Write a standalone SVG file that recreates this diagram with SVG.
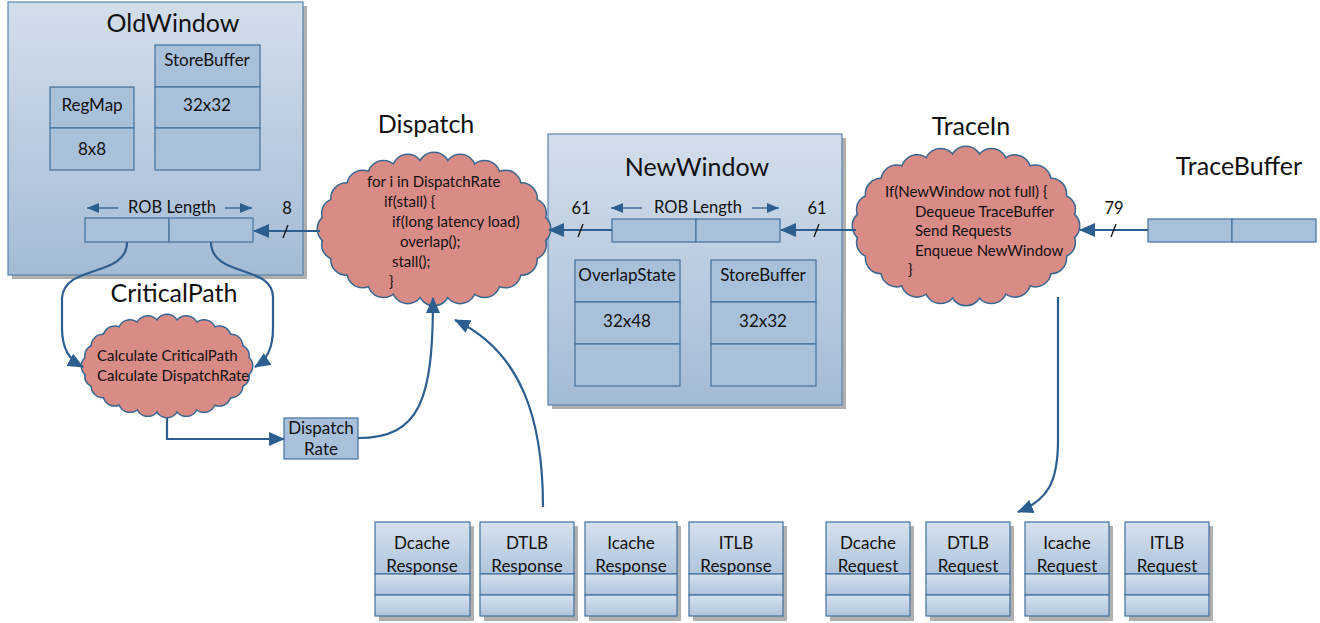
<svg xmlns="http://www.w3.org/2000/svg" xmlns:xlink="http://www.w3.org/1999/xlink" width="1320" height="623" viewBox="0 0 1320 623">
<style>
text{font-family:Lato,"Liberation Sans",sans-serif;fill:#111}
.title{font-size:25px;text-anchor:middle}
.lbl{font-size:17px;text-anchor:middle}
.rob{font-size:16.5px;text-anchor:middle}
.num{font-size:16.5px;text-anchor:middle}
.blbl{font-size:17px;text-anchor:middle}
.code{font-size:15px}
.win{fill:url(#gWin);stroke:#5a82ad;stroke-width:1.2}
.shadow{fill:#8f8f8f;opacity:0.7}
.cell{fill:#a9c0da;stroke:#41709f;stroke-width:1.2}
.bcell{fill:url(#gBox);stroke:#41709f;stroke-width:1.2}
.cs{fill:#d98b86;stroke:#3a6792;stroke-width:3}
.cf{fill:#d98b86;stroke:none}
.conn{fill:none;stroke:#2d5e90;stroke-width:2.2}
.slash{stroke:#111;stroke-width:1.3}
.small{stroke:#2d5e90;stroke-width:1.3;fill:none}
</style>
<defs>
<linearGradient id="gWin" x1="0" y1="0" x2="0" y2="1">
<stop offset="0" stop-color="#d3deeb"/><stop offset="1" stop-color="#a4bbd6"/>
</linearGradient>
<linearGradient id="gBox" x1="0" y1="0" x2="0" y2="1">
<stop offset="0" stop-color="#d6e1ee"/><stop offset="1" stop-color="#afc4dc"/>
</linearGradient>
<marker id="ah" markerUnits="userSpaceOnUse" markerWidth="16" markerHeight="14" refX="15" refY="7" orient="auto">
<path d="M0,0 L16,7 L0,14 z" fill="#2d5e90"/>
</marker>
<marker id="ahs" markerUnits="userSpaceOnUse" markerWidth="12" markerHeight="10" refX="12" refY="5" orient="auto">
<path d="M0,0 L12,5 L0,10 z" fill="#2d5e90"/>
</marker>
<g id="cDisp">
<circle cx="535" cy="229" r="15"/><circle cx="531.6" cy="244.8" r="14"/><circle cx="521.5" cy="259.5" r="15"/><circle cx="505.4" cy="272.1" r="15"/><circle cx="484.5" cy="281.8" r="15"/><circle cx="460.2" cy="287.9" r="15"/><circle cx="434" cy="290" r="15"/><circle cx="407.8" cy="287.9" r="15"/><circle cx="383.5" cy="281.8" r="15"/><circle cx="362.6" cy="272.1" r="15"/><circle cx="346.5" cy="259.5" r="15"/><circle cx="336.4" cy="244.8" r="14"/><circle cx="333" cy="229" r="15"/><circle cx="336.4" cy="213.2" r="14"/><circle cx="346.5" cy="198.5" r="15"/><circle cx="362.6" cy="185.9" r="15"/><circle cx="383.5" cy="176.2" r="15"/><circle cx="407.8" cy="170.1" r="15"/><circle cx="434" cy="168" r="15"/><circle cx="460.2" cy="170.1" r="15"/><circle cx="484.5" cy="176.2" r="15"/><circle cx="505.4" cy="185.9" r="15"/><circle cx="521.5" cy="198.5" r="15"/><circle cx="531.6" cy="213.2" r="14"/>
<ellipse cx="434" cy="229" rx="101" ry="61"/>
</g>
<g id="cTrace">
<circle cx="1064" cy="226" r="15"/><circle cx="1060.7" cy="242.6" r="14"/><circle cx="1050.9" cy="258" r="15"/><circle cx="1035.3" cy="271.2" r="15"/><circle cx="1015" cy="281.4" r="15"/><circle cx="991.4" cy="287.8" r="15"/><circle cx="966" cy="290" r="15"/><circle cx="940.6" cy="287.8" r="15"/><circle cx="917" cy="281.4" r="15"/><circle cx="896.7" cy="271.2" r="15"/><circle cx="881.1" cy="258" r="15"/><circle cx="871.3" cy="242.6" r="14"/><circle cx="868" cy="226" r="15"/><circle cx="871.3" cy="209.4" r="14"/><circle cx="881.1" cy="194" r="15"/><circle cx="896.7" cy="180.8" r="15"/><circle cx="917" cy="170.6" r="15"/><circle cx="940.6" cy="164.2" r="15"/><circle cx="966" cy="162" r="15"/><circle cx="991.4" cy="164.2" r="15"/><circle cx="1015" cy="170.6" r="15"/><circle cx="1035.3" cy="180.8" r="15"/><circle cx="1050.9" cy="194" r="15"/><circle cx="1060.7" cy="209.4" r="14"/>
<ellipse cx="966" cy="226" rx="98" ry="64"/>
</g>
<g id="cCrit">
<circle cx="241" cy="366" r="11"/><circle cx="238.5" cy="376.4" r="10"/><circle cx="231.1" cy="386" r="11"/><circle cx="219.3" cy="394.3" r="11"/><circle cx="204" cy="400.6" r="11"/><circle cx="186.2" cy="404.6" r="11"/><circle cx="167" cy="406" r="11"/><circle cx="147.8" cy="404.6" r="11"/><circle cx="130" cy="400.6" r="11"/><circle cx="114.7" cy="394.3" r="11"/><circle cx="102.9" cy="386" r="11"/><circle cx="95.5" cy="376.4" r="10"/><circle cx="93" cy="366" r="11"/><circle cx="95.5" cy="355.6" r="10"/><circle cx="102.9" cy="346" r="11"/><circle cx="114.7" cy="337.7" r="11"/><circle cx="130" cy="331.4" r="11"/><circle cx="147.8" cy="327.4" r="11"/><circle cx="167" cy="326" r="11"/><circle cx="186.2" cy="327.4" r="11"/><circle cx="204" cy="331.4" r="11"/><circle cx="219.3" cy="337.7" r="11"/><circle cx="231.1" cy="346" r="11"/><circle cx="238.5" cy="355.6" r="10"/>
<ellipse cx="167" cy="366" rx="74" ry="40"/>
</g>
</defs>
<rect width="1320" height="623" fill="#ffffff"/>

<g id="OldWindow">
<rect class="shadow" x="12" y="6" width="295" height="273"/>
<rect class="win" x="8" y="2" width="295" height="273"/>
<text class="title" x="173" y="32">OldWindow</text>
<rect class="cell" x="155" y="45" width="105" height="42"/>
<rect class="cell" x="155" y="87" width="105" height="41"/>
<rect class="cell" x="155" y="128" width="105" height="42"/>
<text class="lbl" x="207" y="66">StoreBuffer</text>
<text class="lbl" x="207" y="111">32x32</text>
<rect class="cell" x="50" y="87" width="84" height="41"/>
<rect class="cell" x="50" y="128" width="84" height="42"/>
<text class="lbl" x="92" y="111">RegMap</text>
<text class="lbl" x="92" y="155">8x8</text>
<text class="rob" x="172" y="213">ROB Length</text>
<line class="small" x1="118" y1="208" x2="87" y2="208" marker-end="url(#ahs)"/>
<line class="small" x1="225" y1="208" x2="252" y2="208" marker-end="url(#ahs)"/>
<rect class="cell" x="85" y="218" width="84" height="24"/>
<rect class="cell" x="169" y="218" width="84" height="24"/>
</g>

<g id="NewWindow">
<rect class="shadow" x="552" y="138" width="294" height="271"/>
<rect class="win" x="548" y="134" width="294" height="271"/>
<text class="title" x="697" y="176">NewWindow</text>
<text class="rob" x="698" y="213">ROB Length</text>
<line class="small" x1="642" y1="208" x2="611" y2="208" marker-end="url(#ahs)"/>
<line class="small" x1="752" y1="208" x2="779" y2="208" marker-end="url(#ahs)"/>
<rect class="cell" x="612" y="219" width="84" height="23"/>
<rect class="cell" x="696" y="219" width="84" height="23"/>
<rect class="cell" x="575" y="260" width="105" height="42"/>
<rect class="cell" x="575" y="302" width="105" height="42"/>
<rect class="cell" x="575" y="344" width="105" height="42"/>
<text class="lbl" x="627" y="281">OverlapState</text>
<text class="lbl" x="627" y="327">32x48</text>
<rect class="cell" x="711" y="260" width="105" height="42"/>
<rect class="cell" x="711" y="302" width="105" height="42"/>
<rect class="cell" x="711" y="344" width="105" height="42"/>
<text class="lbl" x="763" y="281">StoreBuffer</text>
<text class="lbl" x="763" y="327">32x32</text>
</g>

<g id="Dispatch">
<text class="title" x="426" y="133">Dispatch</text>
<use xlink:href="#cDisp" class="cs"/>
<use xlink:href="#cDisp" class="cf"/>
<text class="code" x="367" y="187">for i in DispatchRate</text>
<text class="code" x="384" y="207">if(stall) {</text>
<text class="code" x="392" y="227">if(long latency load)</text>
<text class="code" x="400" y="247">overlap();</text>
<text class="code" x="392" y="267">stall();</text>
<text class="code" x="389" y="287">}</text>
</g>

<g id="TraceIn">
<text class="title" x="971" y="135">TraceIn</text>
<use xlink:href="#cTrace" class="cs"/>
<use xlink:href="#cTrace" class="cf"/>
<text class="code" x="885" y="197">If(NewWindow not full) {</text>
<text class="code" x="915" y="216.5">Dequeue TraceBuffer</text>
<text class="code" x="915" y="236">Send Requests</text>
<text class="code" x="915" y="255.5">Enqueue NewWindow</text>
<text class="code" x="908" y="275">}</text>
</g>

<g id="TraceBuffer">
<text class="title" x="1239" y="175">TraceBuffer</text>
<rect class="cell" x="1148" y="219" width="84" height="23"/>
<rect class="cell" x="1232" y="219" width="84" height="23"/>
</g>

<g id="CriticalPath">
<text class="title" x="174" y="302">CriticalPath</text>
<use xlink:href="#cCrit" class="cs"/>
<use xlink:href="#cCrit" class="cf"/>
<text class="code" x="97" y="361">Calculate CriticalPath</text>
<text class="code" x="97" y="381">Calculate DispatchRate</text>
</g>

<g id="DispatchRate">
<rect class="cell" x="284" y="418" width="74" height="41"/>
<text class="blbl" x="321" y="434">Dispatch</text>
<text class="blbl" x="321" y="455">Rate</text>
</g>

<g id="Responses">
<g id="DcacheResponse">
<rect class="shadow" x="379" y="526" width="95" height="95"/>
<rect class="bcell" x="375" y="522" width="95" height="52"/>
<rect class="bcell" x="375" y="574" width="95" height="21"/>
<rect class="bcell" x="375" y="595" width="95" height="21"/>
<text class="blbl" x="422" y="549">Dcache</text>
<text class="blbl" x="422" y="572">Response</text>
</g>
<g id="DTLBResponse">
<rect class="shadow" x="484" y="526" width="94" height="95"/>
<rect class="bcell" x="480" y="522" width="94" height="52"/>
<rect class="bcell" x="480" y="574" width="94" height="21"/>
<rect class="bcell" x="480" y="595" width="94" height="21"/>
<text class="blbl" x="527" y="549">DTLB</text>
<text class="blbl" x="527" y="572">Response</text>
</g>
<g id="IcacheResponse">
<rect class="shadow" x="589" y="526" width="92" height="95"/>
<rect class="bcell" x="585" y="522" width="92" height="52"/>
<rect class="bcell" x="585" y="574" width="92" height="21"/>
<rect class="bcell" x="585" y="595" width="92" height="21"/>
<text class="blbl" x="631" y="549">Icache</text>
<text class="blbl" x="631" y="572">Response</text>
</g>
<g id="ITLBResponse">
<rect class="shadow" x="693" y="526" width="94" height="95"/>
<rect class="bcell" x="689" y="522" width="94" height="52"/>
<rect class="bcell" x="689" y="574" width="94" height="21"/>
<rect class="bcell" x="689" y="595" width="94" height="21"/>
<text class="blbl" x="736" y="549">ITLB</text>
<text class="blbl" x="736" y="572">Response</text>
</g>
</g>

<g id="Requests">
<g id="DcacheRequest">
<rect class="shadow" x="830" y="526" width="84" height="95"/>
<rect class="bcell" x="826" y="522" width="84" height="52"/>
<rect class="bcell" x="826" y="574" width="84" height="21"/>
<rect class="bcell" x="826" y="595" width="84" height="21"/>
<text class="blbl" x="868" y="549">Dcache</text>
<text class="blbl" x="868" y="572">Request</text>
</g>
<g id="DTLBRequest">
<rect class="shadow" x="930" y="526" width="84" height="95"/>
<rect class="bcell" x="926" y="522" width="84" height="52"/>
<rect class="bcell" x="926" y="574" width="84" height="21"/>
<rect class="bcell" x="926" y="595" width="84" height="21"/>
<text class="blbl" x="968" y="549">DTLB</text>
<text class="blbl" x="968" y="572">Request</text>
</g>
<g id="IcacheRequest">
<rect class="shadow" x="1029" y="526" width="84" height="95"/>
<rect class="bcell" x="1025" y="522" width="84" height="52"/>
<rect class="bcell" x="1025" y="574" width="84" height="21"/>
<rect class="bcell" x="1025" y="595" width="84" height="21"/>
<text class="blbl" x="1067" y="549">Icache</text>
<text class="blbl" x="1067" y="572">Request</text>
</g>
<g id="ITLBRequest">
<rect class="shadow" x="1129" y="526" width="84" height="95"/>
<rect class="bcell" x="1125" y="522" width="84" height="52"/>
<rect class="bcell" x="1125" y="574" width="84" height="21"/>
<rect class="bcell" x="1125" y="595" width="84" height="21"/>
<text class="blbl" x="1167" y="549">ITLB</text>
<text class="blbl" x="1167" y="572">Request</text>
</g>
</g>

<g id="connectors">
<line class="conn" x1="320" y1="231" x2="254" y2="231" marker-end="url(#ah)"/>
<line class="slash" x1="283" y1="238" x2="288" y2="225"/>
<text class="num" x="287" y="214">8</text>
<line class="conn" x1="612" y1="230" x2="549" y2="230" marker-end="url(#ah)"/>
<line class="slash" x1="578" y1="237" x2="583" y2="224"/>
<text class="num" x="581" y="214">61</text>
<line class="conn" x1="856" y1="230" x2="781" y2="230" marker-end="url(#ah)"/>
<line class="slash" x1="814" y1="237" x2="819" y2="224"/>
<text class="num" x="817" y="214">61</text>
<line class="conn" x1="1148" y1="230" x2="1080" y2="230" marker-end="url(#ah)"/>
<line class="slash" x1="1111" y1="237" x2="1116" y2="224"/>
<text class="num" x="1114" y="214">79</text>
<path class="conn" d="M127,242 C127,278 64,264 62,298 L62,328 C62,350 70,360 83,367" marker-end="url(#ah)"/>
<path class="conn" d="M211,242 C211,278 274,264 273,298 L273,328 C273,350 266,360 255,367" marker-end="url(#ah)"/>
<path class="conn" d="M167,417 L167,439 L284,439" marker-end="url(#ah)"/>
<path class="conn" d="M358,438 C420,438 433,400 433,298" marker-end="url(#ah)"/>
<path class="conn" d="M543,507 C543,420 522,352 455,320" marker-end="url(#ah)"/>
<path class="conn" d="M1058,297 L1058,440 C1058,482 1048,500 1018,512" marker-end="url(#ah)"/>
</g>
</svg>
